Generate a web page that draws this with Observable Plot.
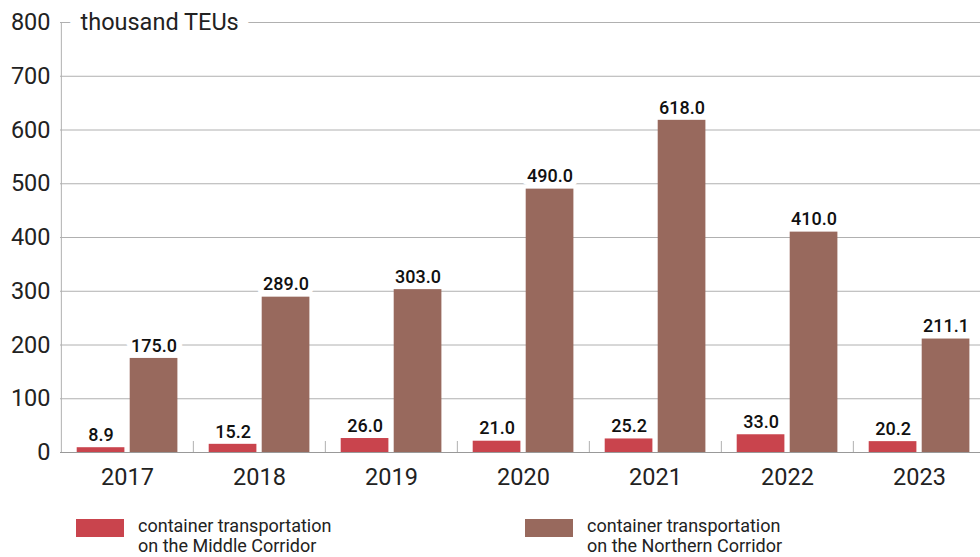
<!DOCTYPE html>
<html>
<head>
<meta charset="utf-8">
<script src="https://cdn.jsdelivr.net/npm/d3@7"></script>
<script src="https://cdn.jsdelivr.net/npm/@observablehq/plot@0.6"></script>
<style>
  html, body { margin: 0; padding: 0; background: #fff; }
  body { width: 980px; height: 557px; overflow: hidden; font-family: Roboto, sans-serif; }
  #legend { position: relative; width: 980px; height: 57px; }
  .item { position: absolute; top: 16px; display: flex; align-items: flex-start; }
  .sw { width: 48px; height: 18px; margin-top: 3px; margin-right: 14px; }
  .lab { font-size: 18px; line-height: 20px; color: #222; }
</style>
</head>
<body>
<div id="chart"></div>
<div id="legend"></div>
<script>
const years = [2017, 2018, 2019, 2020, 2021, 2022, 2023];
const middleCorridor = [8.9, 15.2, 26.0, 21.0, 25.2, 33.0, 20.2];
const northernCorridor = [175.0, 289.0, 303.0, 490.0, 618.0, 410.0, 211.1];
const yTicks = [0, 100, 200, 300, 400, 500, 600, 700, 800];
const unitLabel = ["thousand TEUs"];
const seriesLabels = [
  ["container transportation", "on the Middle Corridor"],
  ["container transportation", "on the Northern Corridor"]
];

const RED = "#c9444d";
const BROWN = "#98695d";
const GRID = "#b0b0b0";

const mid = years.map((y, i) => ({year: y, value: middleCorridor[i]}));
const nor = years.map((y, i) => ({year: y, value: northernCorridor[i]}));

const half = 926 / 7 / 2;

const labelOpts = {
  x: "year", y: "value",
  text: d => d.value.toFixed(1),
  lineAnchor: "middle", dy: -12.5,
  fontSize: 18, fontWeight: 500, fontFamily: "'Roboto Medium', Roboto, sans-serif", fill: "#111",
  stroke: "white", strokeWidth: 12
};

const chart = Plot.plot({
  width: 980,
  height: 500,
  marginLeft: 60,
  marginRight: 0,
  marginTop: 22,
  marginBottom: 48,
  style: {fontFamily: "Roboto, sans-serif", color: "#222", background: "white"},
  x: {type: "band", domain: years, range: [60, 986], padding: 0},
  y: {domain: [0, 800]},
  marks: [
    Plot.gridY(yTicks, {stroke: GRID, strokeOpacity: 1}),
    Plot.axisY(yTicks, {tickSize: 0, tickPadding: 10, fontSize: 23.5, label: null}),
    Plot.axisX({tickSize: 0, tickPadding: 16, fontSize: 23.5, label: null, tickFormat: d => `${d}`}),
    Plot.ruleX([years[0]], {x: d => d, dx: -half, stroke: GRID}),
    Plot.ruleX(years.slice(1), {x: d => d, dx: -half, insetTop: 419, stroke: GRID}),
    Plot.text(unitLabel, {frameAnchor: "top-left", text: d => d, dx: 20, textAnchor: "start", lineAnchor: "middle",
      fontSize: 23.5, fill: "#222", stroke: "white", strokeWidth: 22}),
    Plot.text(mid, {...labelOpts, dx: -26.45}),
    Plot.text(nor, {...labelOpts, dx: 26.55}),
    Plot.barY(mid, {x: "year", y: "value", fill: RED, insetLeft: 15.7, insetRight: 68.6}),
    Plot.barY(nor, {x: "year", y: "value", fill: BROWN, insetLeft: 68.7, insetRight: 15.6}),
    Plot.ruleY([0], {stroke: "#999"})
  ]
});
document.getElementById("chart").appendChild(chart);

const legend = document.getElementById("legend");
const colors = [RED, BROWN];
const lefts = [76, 525];
seriesLabels.forEach((lines, i) => {
  const item = document.createElement("div");
  item.className = "item";
  item.style.left = lefts[i] + "px";
  const sw = document.createElement("div");
  sw.className = "sw";
  sw.style.background = colors[i];
  const lab = document.createElement("div");
  lab.className = "lab";
  lab.innerHTML = lines.join("<br>");
  item.appendChild(sw);
  item.appendChild(lab);
  legend.appendChild(item);
});
</script>
</body>
</html>
